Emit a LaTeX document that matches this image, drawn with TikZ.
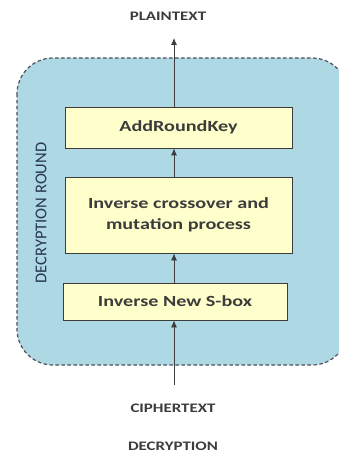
\documentclass[tikz,border=0pt]{standalone}
\usepackage{fontspec}
\setmainfont{Carlito}
\newfontfamily\widefont[FakeStretch=1.3]{Carlito}
\usepackage{xcolor}
\usetikzlibrary{arrows.meta,positioning}
\definecolor{roundblue}{RGB}{173,216,228}
\definecolor{boxyellow}{RGB}{255,255,204}
\definecolor{inkgray}{RGB}{60,60,60}
\definecolor{dashgray}{RGB}{75,80,90}
\definecolor{labelslate}{RGB}{40,55,75}

\tikzset{
  stagebox/.style={draw=inkgray, thick, fill=boxyellow, text=inkgray,
    font=\widefont\bfseries\fontsize{15.5}{21}\selectfont, align=center, inner sep=0pt},
  flowarrow/.style={-{Latex[length=7pt,width=6pt]}, inkgray, thick},
  outerlabel/.style={text=inkgray, font=\widefont\bfseries\fontsize{13}{15}\selectfont}
}

\begin{document}
\begin{tikzpicture}[x=1pt,y=-1pt]
                \useasboundingbox (0,0) rectangle (339,457);
                \begin{scope}
                \clip (0,0) rectangle (339,457);
                \draw[fill=roundblue, draw=dashgray, line width=1.2pt, dash pattern=on 3.5pt off 2.5pt,
                      rounded corners=36pt] (17,58) rectangle (348,365);
                \end{scope}
                \node[outerlabel] (plain) at (168,16) {PLAINTEXT};
                \node[stagebox, minimum width=227pt, minimum height=41pt] (ark) at (178.5,127.5) {AddRoundKey};
                \node[stagebox, minimum width=227pt, minimum height=76pt] (icm) at (178.5,215) {Inverse crossover and\\mutation process};
                \node[stagebox, minimum width=224pt, minimum height=37pt] (isb) at (175,301.5) {Inverse New S-box};
                \node[outerlabel] (cipher) at (173,408) {CIPHERTEXT};
                \node[outerlabel] (decr) at (173,446) {DECRYPTION};
                \node[rotate=90, text=labelslate, font=\fontsize{16.5}{18}\selectfont] (roundlbl) at (41,213) {DECRYPTION ROUND};
                \coordinate (cin) at (174,385);
                \coordinate (pout) at (174,38);
                \draw[flowarrow] (cin) -- (cin |- isb.south);
                \draw[flowarrow] (isb.north -| cin) -- (icm.south -| cin);
                \draw[flowarrow] (icm.north -| cin) -- (ark.south -| cin);
                \draw[flowarrow] (ark.north -| cin) -- (pout);
\end{tikzpicture}
\end{document}
